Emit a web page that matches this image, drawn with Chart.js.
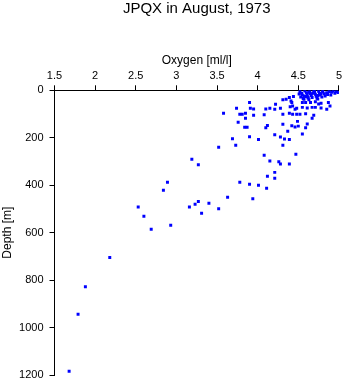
<!DOCTYPE html>
<html>
<head>
<meta charset="utf-8">
<script src="https://cdn.jsdelivr.net/npm/chart.js@4/dist/chart.umd.min.js"></script>
<style>
  body { margin: 0; background: #fff; }
  canvas { display: block; }
</style>
</head>
<body>
<canvas id="oxygenChart" width="345" height="384"></canvas>
<script>
//chart data
const chartTitle = "JPQX in August, 1973";
const oxygenLabel = "Oxygen [ml/l]";
const depthLabel = "Depth [m]";
const oxygenTicks = [1.5, 2, 2.5, 3, 3.5, 4, 4.5, 5];
const depthTicks = [0, 200, 400, 600, 800, 1000, 1200];

const oxygen = [
  3.90, 3.74, 3.91, 3.95, 4.22, 4.10, 4.15, 4.21, 4.28, 4.31,
  4.39, 4.42, 4.43, 4.48, 3.58, 3.78, 3.81, 3.85, 3.95, 4.08,
  4.31, 4.39, 4.43, 4.48, 4.52, 4.59, 4.69, 4.67, 3.85, 3.76,
  4.49, 4.31, 4.12, 4.10, 3.84, 3.87, 4.42, 4.46, 4.50, 4.61,
  4.59, 4.37, 4.55, 4.21, 3.90, 3.69, 4.01, 4.28, 4.33, 4.39,
  3.73, 4.31, 3.52, 4.47, 4.08, 4.15, 4.26, 4.28, 4.39, 3.19,
  3.27, 4.21, 4.12, 4.21, 2.89, 3.78, 3.90, 4.01, 4.11, 2.84,
  3.63, 3.94, 3.27, 3.23, 3.40, 3.16, 3.52, 2.53, 3.31, 2.60,
  2.69, 2.93, 2.18, 1.88, 1.79, 1.68,
  4.55, 4.59, 4.65, 4.71, 4.75, 4.78, 4.87,
  4.55, 4.61, 4.67, 4.71, 4.78, 4.85,
  4.41, 4.89, 4.40, 4.46, 4.35, 4.44,
  4.52, 4.54, 4.55, 4.53, 4.56, 4.58, 4.60, 4.61, 4.59, 4.62,
  4.64, 4.65, 4.66, 4.67, 4.69, 4.70, 4.71, 4.72, 4.73, 4.75,
  4.76, 4.77, 4.79, 4.80, 4.82, 4.83, 4.85, 4.86, 4.88, 4.91,
  4.93, 4.95, 4.97, 4.99, 4.57, 4.63, 4.74,
  4.51, 4.57, 4.63, 4.68, 4.74, 4.80, 4.62, 4.70, 4.78, 4.90
];

const depth = [
  51, 76, 76, 79, 59, 79, 76, 80, 76, 40,
  30, 51, 66, 76, 97, 101, 101, 97, 105, 103,
  101, 97, 101, 101, 101, 99, 105, 118, 118, 135,
  131, 143, 148, 158, 156, 156, 149, 155, 151, 142,
  158, 173, 184, 187, 196, 204, 207, 197, 205, 207,
  232, 232, 240, 270, 274, 298, 301, 311, 311, 291,
  314, 346, 362, 371, 388, 388, 396, 400, 413, 421,
  451, 457, 469, 480, 476, 492, 499, 492, 518, 531,
  586, 569, 705, 828, 944, 1184,
  51, 51, 51, 48, 58, 55, 51,
  72, 75, 72, 72, 75, 80,
  45, 66, 69, 80, 38, 26,
  5, 12, 20, 28, 35, 3, 10, 18, 26, 33,
  6, 14, 22, 30, 2, 9, 17, 25, 34, 4,
  12, 20, 28, 7, 15, 24, 10, 18, 5, 8,
  3, 12, 6, 9, 38, 40, 37,
  16, 24, 8, 12, 22, 2, 28, 4, 14, 20
];

//look
const fontFamily = "'Liberation Sans', Arial, Helvetica, sans-serif";
const ink = "#000000";
const markerBlue = "#0000ff";

//functions
function buildPoints() {
  return oxygen.map((value, index) => {
    return { x: value, y: depth[index] };
  });
}

function fixedTicks(list) {
  return function (scale) {
    scale.ticks = list.map(value => ({ value: value }));
  };
}

function fitDepthAxis(scale) {
  // keep the plot box where the picture has it, labels may hang over
  scale.width = 54.5;
  scale.paddingTop = 0;
  scale.paddingBottom = 0;
}

function createOxygenChart() {
  const data = {
    datasets: [{
      label: "Oxygen",
      data: buildPoints(),
      pointStyle: "rect",
      pointRadius: 2.1,
      pointHoverRadius: 2.1,
      pointBorderWidth: 0,
      backgroundColor: markerBlue,
      borderColor: markerBlue,
      showLine: false
    }]
  };

  const config = {
    type: "scatter",
    data: data,
    options: {
      responsive: false,
      animation: false,
      events: [],
      layout: {
        padding: { top: 1, left: 0, right: 6, bottom: 9 }
      },
      plugins: {
        legend: { display: false },
        tooltip: { enabled: false },
        title: {
          display: true,
          text: chartTitle,
          fullSize: false,
          color: ink,
          font: { family: fontFamily, size: 15, weight: "normal", lineHeight: 1 },
          padding: { top: 0, bottom: 0 }
        }
      },
      scales: {
        x: {
          type: "linear",
          position: "top",
          min: 1.5,
          max: 5,
          afterBuildTicks: fixedTicks(oxygenTicks),
          afterFit: (scale) => { scale.height = 74.3; },
          border: { display: true, color: ink, width: 1 },
          grid: { display: true, drawOnChartArea: false, drawTicks: true, tickLength: 5, color: ink },
          ticks: {
            color: ink,
            padding: 3,
            maxRotation: 0,
            font: { family: fontFamily, size: 11 },
            callback: (value) => String(value)
          },
          title: {
            display: true,
            text: oxygenLabel,
            color: ink,
            font: { family: fontFamily, size: 12 },
            padding: { top: 37.5, bottom: 0 }
          }
        },
        y: {
          type: "linear",
          reverse: true,
          min: 0,
          max: 1200,
          afterBuildTicks: fixedTicks(depthTicks),
          afterFit: fitDepthAxis,
          border: { display: true, color: ink, width: 1 },
          grid: { display: true, drawOnChartArea: false, drawTicks: true, tickLength: 5, color: ink },
          ticks: {
            color: ink,
            padding: 6,
            font: { family: fontFamily, size: 11 },
            callback: (value) => String(value)
          },
          title: {
            display: true,
            text: depthLabel,
            color: ink,
            font: { family: fontFamily, size: 12 },
            padding: { top: 0, bottom: 0 }
          }
        }
      }
    }
  };
  return config;
}

//draw
const oxygenCanvas = document.querySelector("#oxygenChart");
const oxygenChart = new Chart(oxygenCanvas, createOxygenChart());
</script>
</body>
</html>
